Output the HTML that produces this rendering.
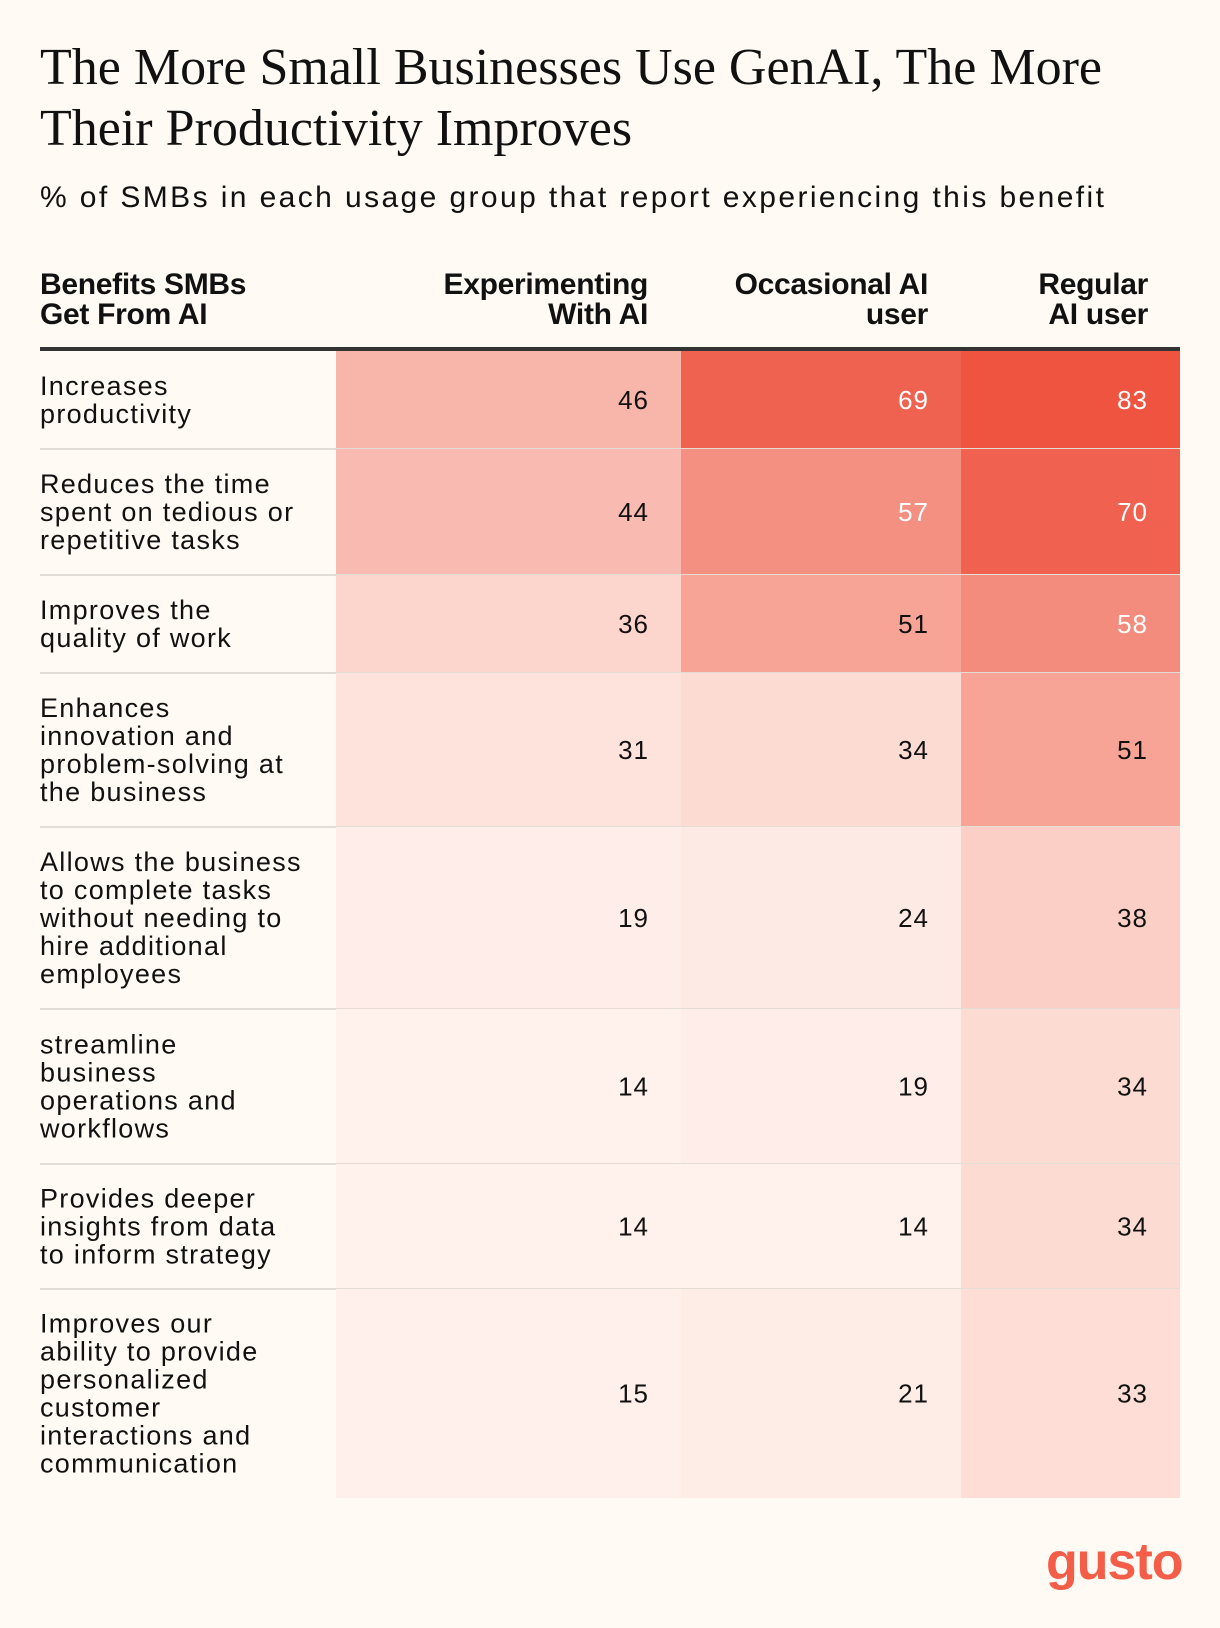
<!DOCTYPE html>
<html><head><meta charset="utf-8"><style>
body{margin:0;background:#fffaf3;width:1220px;height:1628px;position:relative;overflow:hidden;font-family:"Liberation Sans",sans-serif;color:#111}
#title{position:absolute;left:40px;top:37px;font-family:"Liberation Serif",serif;font-size:52px;line-height:61px;margin:0;font-weight:normal;letter-spacing:0px}
#sub{position:absolute;left:40px;top:181px;font-size:30px;letter-spacing:2.4px}
.h{position:absolute;font-weight:bold;font-size:30px;line-height:30px;letter-spacing:-0.3px}
#chart{position:absolute;left:0;top:0}
.gusto{position:absolute;left:1046px;top:1532px;font-size:52px;font-weight:bold;color:#f45d48;letter-spacing:-1px}
</style></head><body>
<h1 id="title">The More Small Businesses Use GenAI, The More<br>Their Productivity Improves</h1>
<div id="sub">% of SMBs in each usage group that report experiencing this benefit</div>
<div class="h" style="left:40px;top:270px">Benefits SMBs<br>Get From AI</div>
<div class="h" style="right:572px;top:270px;text-align:right">Experimenting<br>With AI</div>
<div class="h" style="right:292px;top:270px;text-align:right">Occasional AI<br>user</div>
<div class="h" style="right:72px;top:270px;text-align:right">Regular<br>AI user</div>
<svg id="chart" width="1220" height="1628"></svg>
<div class="gusto">gusto</div>
<script>
const benefits=[["Increases","productivity"],["Reduces the time","spent on tedious or","repetitive tasks"],["Improves the","quality of work"],["Enhances","innovation and","problem-solving at","the business"],["Allows the business","to complete tasks","without needing to","hire additional","employees"],["streamline","business","operations and","workflows"],["Provides deeper","insights from data","to inform strategy"],["Improves our","ability to provide","personalized","customer","interactions and","communication"]];
const experimenting=[46,44,36,31,19,14,14,15];
const occasional=[69,57,51,34,24,19,14,21];
const regular=[83,70,58,51,38,34,34,33];
const series=[experimenting,occasional,regular];
const seriesNames=['experimenting','occasional','regular'];
const colX=[336,681,961,1180];
const rowEdges=[351,449,575,673,827,1009,1164,1289,1498];
const NS='http://www.w3.org/2000/svg';
const svg=document.getElementById('chart');
const scaleV=[10,30,36,46,57,69,85];
const scaleT=[0,0.09,0.19,0.39,0.62,0.9,1];
function tOf(v){if(v<=scaleV[0])return 0;for(let i=1;i<scaleV.length;i++){if(v<=scaleV[i]){const f=(v-scaleV[i-1])/(scaleV[i]-scaleV[i-1]);return scaleT[i-1]+f*(scaleT[i]-scaleT[i-1]);}}return 1;}
function color(v){const t=tOf(v);const a=[255,244,239],b=[238,82,62];return `rgb(${a.map((x,i)=>Math.round(x+(b[i]-x)*t)).join(',')})`;}
function mk(tag,attrs){const e=document.createElementNS(NS,tag);for(const k in attrs)e.setAttribute(k,attrs[k]);svg.appendChild(e);return e;}
benefits.forEach((lines,r)=>{
  const y0=rowEdges[r],y1=rowEdges[r+1],mid=(y0+y1)/2;
  series.forEach((s,c)=>{
    const rect=mk('rect',{x:colX[c],y:y0,width:colX[c+1]-colX[c],height:y1-y0,fill:color(s[r])});
    
    
    const t=mk('text',{x:colX[c+1]-32,y:mid+9,'text-anchor':'end','font-size':26,'letter-spacing':1,fill:s[r]>=55?'#fff':'#111','font-family':'Liberation Sans, sans-serif'});
    t.textContent=s[r];
    
    
  });
  const n=lines.length,lh=28;
  const lab=mk('text',{x:40,'font-size':27,'letter-spacing':1.3,fill:'#111','font-family':'Liberation Sans, sans-serif'});
  
  
  lines.forEach((l,i)=>{const ts=document.createElementNS(NS,'tspan');ts.setAttribute('x',40);ts.setAttribute('y',mid-(n-1)*lh/2+i*lh+9);ts.textContent=l;lab.appendChild(ts);});
  if(r<benefits.length-1){const ln=mk('line',{x1:40,x2:1180,y1:y1,y2:y1,stroke:'#e3ddd6','stroke-width':2});
    
    }
});
const hl=mk('line',{x1:40,x2:1180,y1:349,y2:349,stroke:'#333','stroke-width':4});


</script>
</body></html>
